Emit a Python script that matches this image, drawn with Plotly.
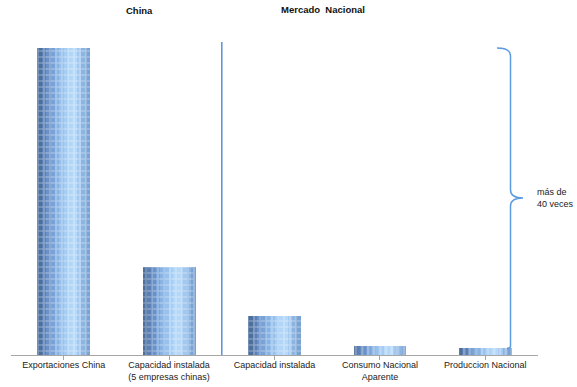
import plotly.graph_objects as go

# ---- data ----
categories = ["Exportaciones China", "Capacidad instalada<br>(5 empresas chinas)",
              "Capacidad instalada", "Consumo Nacional<br>Aparente", "Produccion Nacional"]
values = [36000, 10300, 4600, 1000, 800]
group_titles = ["China", "Mercado\u00a0\u00a0Nacional"]
brace_label = "más de<br>40 veces"

# ---- style ----
strip_colors = ["#4d6f9e", "#5a80b5", "#6a92c8", "#79a3d8", "#88b2e3", "#97c0ec",
                "#a6ccf3", "#b2d6f8", "#b5d8f8", "#a3c8ef", "#8db5e2", "#7aa3d3"]
bar_width = 0.5
font_family = "Liberation Sans, Arial, sans-serif"

OFF = 0  # page body margin removed by post_script
W, H = 577, 387
L, T = 11, 30
plot_right = 538
plot_bottom = 355
R = W - plot_right
B = H - plot_bottom
pw = plot_right - L
ph = plot_bottom - T

def px2paper(px_window):
    return (px_window - OFF - L) / pw

def py2paper(py_window):
    return (plot_bottom - (py_window - OFF)) / ph

x_idx = list(range(len(categories)))
fig = go.Figure()
n = len(strip_colors)
sw = bar_width / n
for i, c in enumerate(strip_colors):
    fig.add_trace(go.Bar(x=x_idx, y=values, width=sw * 1.02, offset=-bar_width / 2 + i * sw,
                         marker=dict(color=c, line=dict(width=0)),
                         showlegend=False, hoverinfo="skip"))
# texture overlay
fig.add_trace(go.Bar(x=x_idx, y=values, width=bar_width, offset=-bar_width / 2,
                     marker=dict(color="rgba(0,0,0,0)", line=dict(width=0),
                                 pattern=dict(shape=["+", "+", "+", "|", "|"],
                                              fgcolor="rgba(255,255,255,0.55)",
                                              bgcolor="rgba(0,0,0,0)",
                                              fillmode="overlay",
                                              size=6, solidity=0.45)),
                     showlegend=False, hoverinfo="skip"))

ymax = values[0] * ph / 307
unit = ymax / ph  # data per px

fig.update_layout(
    width=W, height=H, margin=dict(l=L, r=R, t=T, b=B, autoexpand=False),
    barmode="overlay", bargap=0,
    plot_bgcolor="white", paper_bgcolor="white",
    font=dict(family=font_family, size=9, color="#222"),
    xaxis=dict(tickmode="array", tickvals=x_idx, ticktext=categories,
               range=[-0.5, len(categories) - 0.5], automargin=False,
               showline=True, linecolor="#a6a6a6", linewidth=1,
               ticks="outside", tickson="boundaries", ticklen=4, tickcolor="#a6a6a6",
               ticklabelstandoff=-3,
               showgrid=False, zeroline=False, tickfont=dict(size=9, color="#222")),
    yaxis=dict(range=[0, ymax], visible=False, showgrid=False, zeroline=False,
               automargin=False),
)

# group titles
fig.add_annotation(x=px2paper(124), y=py2paper(10), xref="paper", yref="paper", yanchor="middle",
                   text="<b>" + group_titles[0] + "</b>", showarrow=False, font=dict(size=9.5, color="#111"))
fig.add_annotation(x=px2paper(367), y=py2paper(9), xref="paper", yref="paper", yanchor="middle",
                   text="<b>" + group_titles[1] + "</b>", showarrow=False, font=dict(size=9.5, color="#111"))

# divider line between groups
fig.add_shape(type="line", xref="x", yref="paper", x0=1.5, x1=1.5, y0=0, y1=py2paper(42),
              line=dict(color="#5b8fd8", width=1.5))

# brace from top of first bar to top of last bar
xa, xb, xt = px2paper(497), px2paper(510.5), px2paper(523)
top, bot = values[0], values[-1]
mid = (top + bot) / 2
d = 8 * unit
path = (f"M {xa},{top} Q {xb},{top} {xb},{top - d} "
        f"L {xb},{mid + d} Q {xb},{mid} {xt},{mid} "
        f"Q {xb},{mid} {xb},{mid - d} "
        f"L {xb},{bot + 2 * unit} Q {xb},{bot} {px2paper(507)},{bot}")
fig.add_shape(type="path", xref="paper", yref="y", path=path,
              line=dict(color="#5b9be0", width=1.5))

fig.add_annotation(x=px2paper(535), y=mid, xref="paper", yref="y", xanchor="left", yanchor="middle",
                   align="left", text=brace_label, showarrow=False, font=dict(size=9, color="#222"))

fig.write_html("out.html", config={"displayModeBar": False, "staticPlot": True},
               post_script="document.body.style.margin='0';")
